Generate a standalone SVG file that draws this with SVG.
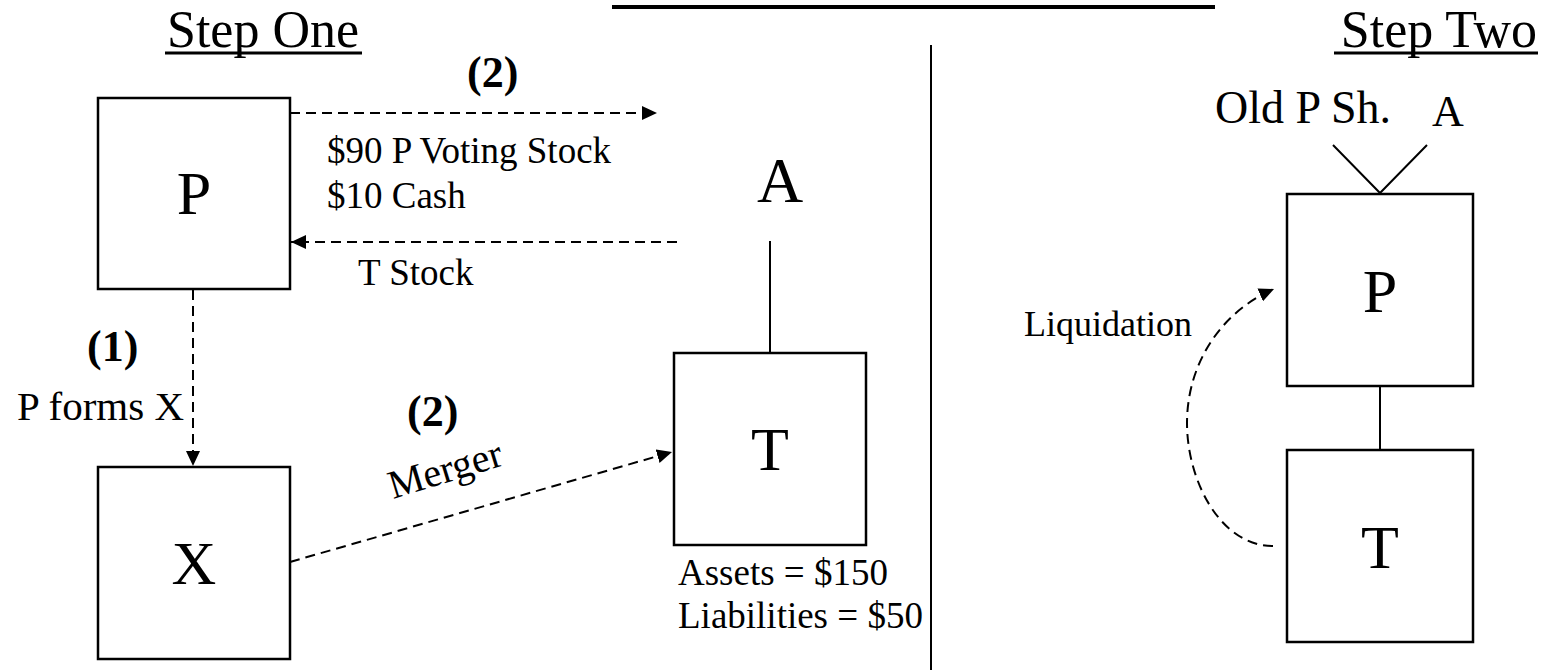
<svg xmlns="http://www.w3.org/2000/svg" width="1541" height="672" viewBox="0 0 1541 672">
<style>
text{font-family:"Liberation Serif","Times New Roman",serif;fill:#000}
.box{fill:#fff;stroke:#000;stroke-width:2.5}
.big{font-size:62px;text-anchor:middle}
.lbl{font-size:37px}
.num{font-size:44px;font-weight:bold}
.solid{stroke:#000;stroke-width:2;fill:none}
.dash{stroke:#000;stroke-width:2;fill:none;stroke-dasharray:10 6;marker-end:url(#ah)}
</style>
<defs>
<marker id="ah" markerUnits="userSpaceOnUse" markerWidth="16" markerHeight="14" refX="15" refY="7" orient="auto">
<path d="M0,0 L15,7 L0,14 z" fill="#000"/>
</marker>
</defs>
<rect x="612" y="5" width="603" height="4" fill="#000"/>
<line x1="931" y1="45" x2="931" y2="670" stroke="#000" stroke-width="2"/>
<g id="title-one">
<text x="167" y="47" style="font-size:52px">Step One</text>
<line x1="165" y1="53" x2="362" y2="53" stroke="#000" stroke-width="3"/>
</g>
<g id="title-two">
<text x="1537" y="47" style="font-size:52px;text-anchor:end">Step Two</text>
<line x1="1334" y1="53" x2="1538" y2="53" stroke="#000" stroke-width="3"/>
</g>
<g id="connectors">
<path class="dash" d="M290,113 L657,113"/>
<path class="dash" d="M677,242 L291,242"/>
<path class="dash" d="M193,290 L193,466"/>
<path class="dash" d="M290,562 L672,452"/>
<path class="dash" d="M1273,546 C1220,546 1187,480 1187,423 C1187,365 1220,312 1274,289"/>
<line class="solid" x1="770" y1="241" x2="770" y2="353"/>
<line class="solid" x1="1380" y1="386" x2="1380" y2="450"/>
<polyline class="solid" points="1333,145 1380,193 1427,145"/>
</g>
<g id="labels">
<text class="num" x="467" y="87">(2)</text>
<text class="lbl" x="327" y="163">$90 P Voting Stock</text>
<text class="lbl" x="327" y="208">$10 Cash</text>
<text class="lbl" x="358" y="285">T Stock</text>
<text class="num" x="87" y="361">(1)</text>
<text x="17" y="420" style="font-size:41px">P forms X</text>
<text class="num" x="407" y="426">(2)</text>
<text transform="translate(393,499) rotate(-17)" style="font-size:40px">Merger</text>
<text class="lbl" x="678" y="585">Assets = $150</text>
<text class="lbl" x="678" y="628">Liabilities = $50</text>
<text x="1215" y="123" style="font-size:46px">Old P Sh.</text>
<text x="1432" y="126" style="font-size:44px">A</text>
<text x="1024" y="336" style="font-size:36px">Liquidation</text>
</g>
<g id="node-P1"><rect class="box" x="98" y="98" width="192" height="191"/><text class="big" x="194" y="214">P</text></g>
<g id="node-X"><rect class="box" x="98" y="467" width="192" height="192"/><text class="big" x="194" y="584">X</text></g>
<g id="node-A"><text class="big" x="780" y="202" style="font-size:64px">A</text></g>
<g id="node-T1"><rect class="box" x="674" y="353" width="192" height="192"/><text class="big" x="770" y="470">T</text></g>
<g id="node-P2"><rect class="box" x="1287" y="194" width="186" height="192"/><text class="big" x="1380" y="312">P</text></g>
<g id="node-T2"><rect class="box" x="1287" y="450" width="186" height="192"/><text class="big" x="1380" y="568">T</text></g>
</svg>
